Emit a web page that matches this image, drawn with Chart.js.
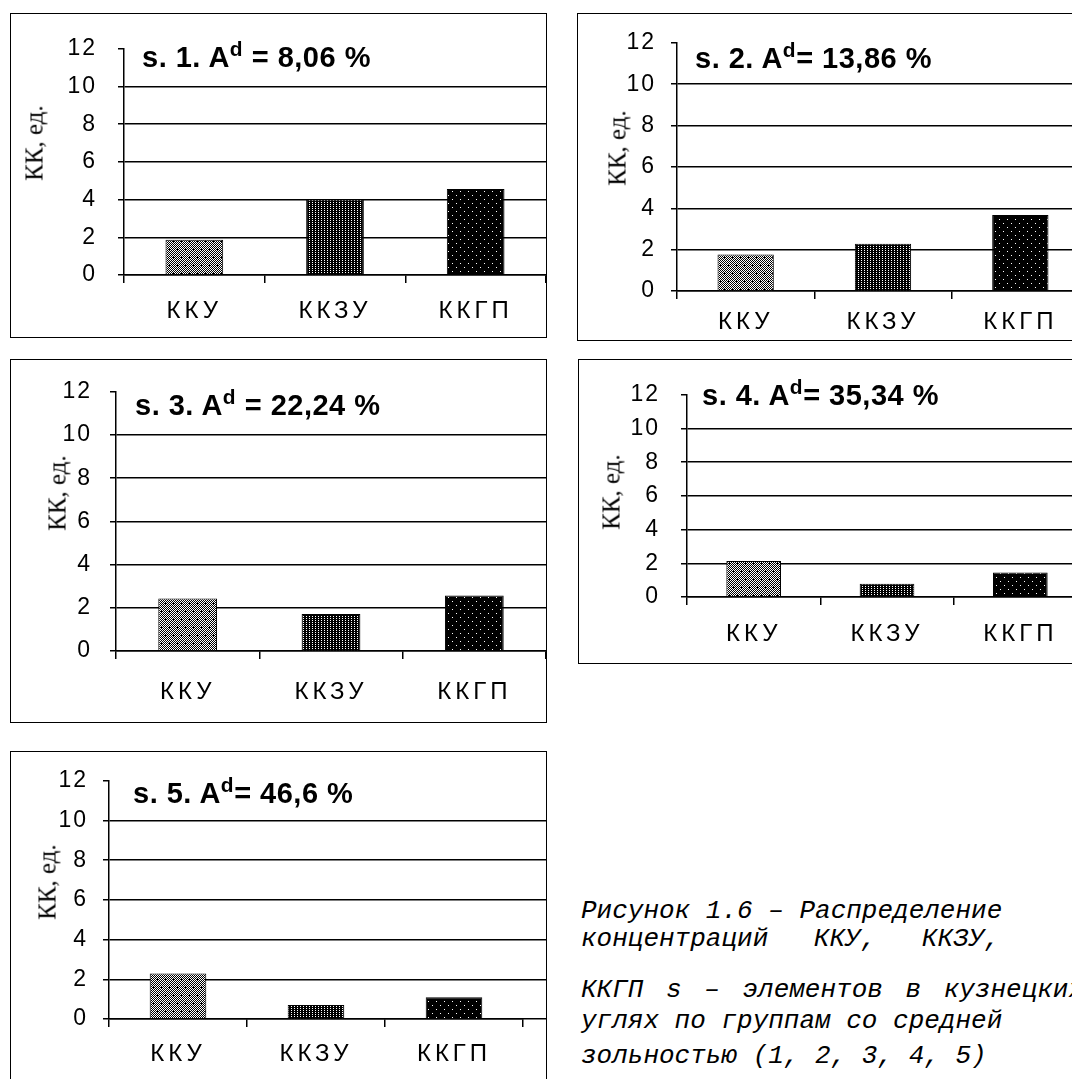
<!DOCTYPE html>
<html lang="ru">
<head>
<meta charset="utf-8">
<title>КК по группам зольности</title>
<script src="https://cdn.jsdelivr.net/npm/chart.js@4.4.1/dist/chart.umd.min.js"></script>
<style>
  html, body { margin: 0; padding: 0; background: #fff; }
  body { width: 1072px; height: 1079px; overflow: hidden; position: relative; font-family: "Liberation Sans", Arial, sans-serif; }
  .frame { position: absolute; border: 1px solid #000; box-sizing: content-box; }
  .frame canvas { position: absolute; left: 0; top: 0; }
  .ttl { position: absolute; font-weight: bold; font-size: 29px; line-height: 1; white-space: nowrap; letter-spacing: 0.5px; color: #000; }
  .ttl span { font-size: 0.72em; position: relative; top: -0.55em; }
  .ylab { position: absolute; font-family: "Liberation Serif", "Times New Roman", serif; font-size: 25px; line-height: 1;
          white-space: nowrap; transform: translate(-50%, -50%) rotate(-90deg); color: #000; }
  .cap { position: absolute; font-family: "Liberation Mono", "Courier New", monospace; font-style: italic; font-size: 26px;
         line-height: 1; white-space: pre; color: #000; }
</style>
</head>
<body>
<script>
// --- данные ---
const categories = ['ККУ', 'ККЗУ', 'ККГП'];
const yTicks = [0, 2, 4, 6, 8, 10, 12];
const sampleNames = ['s. 1.', 's. 2.', 's. 3.', 's. 4.', 's. 5.'];
const ashValues = ['8,06', '13,86', '22,24', '35,34', '46,6'];
const kk1 = [1.87, 4.00, 4.56];
const kk2 = [1.76, 2.29, 3.67];
const kk3 = [2.43, 1.71, 2.57];
const kk4 = [2.13, 0.79, 1.46];
const kk5 = [2.29, 0.70, 1.09];
const captionLines = [
  'Рисунок 1.6 – Распределение',
  'концентраций ККУ, ККЗУ,',
  'ККГП s – элементов в кузнецких',
  'углях по группам со средней',
  'зольностью (1, 2, 3, 4, 5)'
];

// --- раскладка (px) ---
const panels = [
  { values: kk1, L: 10,  T: 13,  R: 546,  B: 337,  axisX: 124, plotR: 546,  y12: 35,  y0: 275,  tickPad: 21, catPad: 14, tx: 142, tb: 67,  eq: ' = ', lx: 34,  ly: 143 },
  { values: kk2, L: 577, T: 13,  R: 1089, B: 340,  axisX: 677, plotR: 1089, y12: 39,  y0: 291,  tickPad: 15, catPad: 9,  tx: 695, tb: 68,  eq: '= ',  lx: 617, ly: 148 },
  { values: kk3, L: 10,  T: 359, R: 546,  B: 722,  axisX: 116, plotR: 546,  y12: 385, y0: 651,  tickPad: 18, catPad: 19, tx: 135, tb: 415, eq: ' = ', lx: 57,  ly: 493 },
  { values: kk4, L: 578, T: 359, R: 1087, B: 663,  axisX: 687, plotR: 1087, y12: 383, y0: 597,  tickPad: 21, catPad: 15, tx: 702, tb: 405, eq: '= ',  lx: 611, ly: 492 },
  { values: kk5, L: 10,  T: 751, R: 546,  B: 1110, axisX: 109, plotR: 523,  y12: 778, y0: 1019, tickPad: 15, catPad: 13, tx: 133, tb: 803, eq: '= ',  lx: 47,  ly: 882 }
];

// штриховки столбцов
function makePattern(w, h, isBlack) {
  const c = document.createElement('canvas');
  c.width = w; c.height = h;
  const g = c.getContext('2d');
  const img = g.createImageData(w, h);
  for (let j = 0; j < h; j++) {
    for (let i = 0; i < w; i++) {
      const v = isBlack(i, j) ? 0 : 255;
      const k = (j * w + i) * 4;
      img.data[k] = img.data[k + 1] = img.data[k + 2] = v;
      img.data[k + 3] = 255;
    }
  }
  g.putImageData(img, 0, 0);
  return g.createPattern(c, 'repeat');
}
const plus = (i, j, cx, cy) => (i === cx && Math.abs(j - cy) <= 1) || (j === cy && Math.abs(i - cx) <= 1);
const patKKU = makePattern(8, 16, (i, j) => (i + j) % 2 === 0 || plus(i, j, 2, 3) || plus(i, j, 6, 11));
const patKKZU = makePattern(3, 2, (i, j) => !(i === 1 && j === 0));
const patKKGP = makePattern(8, 8, (i, j) => !((i === 1 && j === 1) || (i === 5 && j === 5)));

// разрядка подписей осей
const spacingPlugin = {
  id: 'spacing',
  afterUpdate(chart) {
    [['x', '4px'], ['y', '2px']].forEach(([id, sp]) => {
      const s = chart.scales[id];
      if (s._spaced) return;
      const orig = s.drawLabels.bind(s);
      s.drawLabels = function (area) {
        const ctx = this.ctx;
        ctx.save();
        ctx.letterSpacing = sp;
        orig(area);
        ctx.restore();
      };
      s._spaced = true;
    });
  }
};

// линии сетки до рамки (панель 5)
const extendGrid = {
  id: 'extendGrid',
  afterDraw(chart, args, opts) {
    if (!opts.on) return;
    const { ctx, chartArea, scales: { y } } = chart;
    const lw = 1.5;
    ctx.save();
    ctx.strokeStyle = '#000';
    ctx.lineWidth = lw;
    yTicks.filter(v => v < 12).forEach(v => {
      const py = Math.round(y.getPixelForValue(v) - lw / 2) + lw / 2;
      ctx.beginPath();
      ctx.moveTo(chartArea.right, py);
      ctx.lineTo(chart.width, py);
      ctx.stroke();
    });
    ctx.restore();
  }
};

const yFont = { family: '"Liberation Sans", Arial, sans-serif', size: 23 };
const xFont = { family: '"Liberation Sans", Arial, sans-serif', size: 24 };

panels.forEach((p, n) => {
  const frame = document.createElement('div');
  frame.className = 'frame';
  const w = p.R - p.L - 1, h = p.B - p.T - 1;
  frame.style.left = p.L + 'px'; frame.style.top = p.T + 'px';
  frame.style.width = w + 'px'; frame.style.height = h + 'px';
  const cv = document.createElement('canvas');
  cv.width = w; cv.height = h;
  cv.style.width = w + 'px'; cv.style.height = h + 'px';
  frame.appendChild(cv);
  document.body.appendChild(frame);

  const ox = p.L + 1, oy = p.T + 1;
  const yw = p.axisX - ox, top = p.y12 - oy, xh = h - (p.y0 - oy);
  const right = Math.max(p.R - p.plotR, 0);

  new Chart(cv, {
    type: 'bar',
    data: {
      labels: categories,
      datasets: [{
        data: p.values,
        backgroundColor: [patKKU, patKKZU, patKKGP],
        borderColor: '#000',
        borderWidth: 1,
        borderSkipped: 'bottom',
        categoryPercentage: 0.41,
        barPercentage: 1
      }]
    },
    options: {
      responsive: false,
      animation: false,
      events: [],
      layout: { padding: { top: top, right: right, left: 0, bottom: 0 } },
      plugins: { legend: { display: false }, tooltip: { enabled: false }, extendGrid: { on: n === 4 } },
      scales: {
        x: {
          grid: { offset: true, drawOnChartArea: false, drawTicks: true, tickLength: 8, color: '#000', lineWidth: 1.5 },
          border: { color: '#000', width: 1.5 },
          ticks: { color: '#000', font: xFont, padding: p.catPad, maxRotation: 0 },
          afterFit: s => { s.height = xh; }
        },
        y: {
          min: 0, max: 12,
          afterBuildTicks: s => { s.ticks = yTicks.map(v => ({ value: v })); },
          grid: {
            color: c => (c.tick && c.tick.value === 12) ? 'rgba(0,0,0,0)' : '#000',
            tickColor: '#000', tickLength: 6, lineWidth: 1.5
          },
          border: { color: '#000', width: 1.5 },
          ticks: { color: '#000', font: yFont, padding: p.tickPad },
          afterFit: s => { s.width = yw; }
        }
      }
    },
    plugins: [spacingPlugin, extendGrid]
  });

  // заголовок панели
  const t = document.createElement('div');
  t.className = 'ttl';
  t.style.left = p.tx + 'px';
  t.style.top = (p.tb - 24) + 'px';
  t.innerHTML = sampleNames[n] + ' A<span>d</span>' + p.eq + ashValues[n] + ' %';
  document.body.appendChild(t);

  // подпись оси
  const yl = document.createElement('div');
  yl.className = 'ylab';
  yl.style.left = p.lx + 'px';
  yl.style.top = p.ly + 'px';
  yl.textContent = 'КК, ед.';
  document.body.appendChild(yl);
});

// подпись рисунка (строки выровнены по ширине, как в оригинале)
const capBase = [918, 946, 997, 1028, 1063];
const capWordSpacing = [0, 30, 7, 0, 0];
captionLines.forEach((line, i) => {
  const d = document.createElement('div');
  d.className = 'cap';
  d.style.left = '581px';
  d.style.top = (capBase[i] - 20) + 'px';
  d.style.wordSpacing = capWordSpacing[i] + 'px';
  d.textContent = line;
  document.body.appendChild(d);
});
</script>
</body>
</html>
